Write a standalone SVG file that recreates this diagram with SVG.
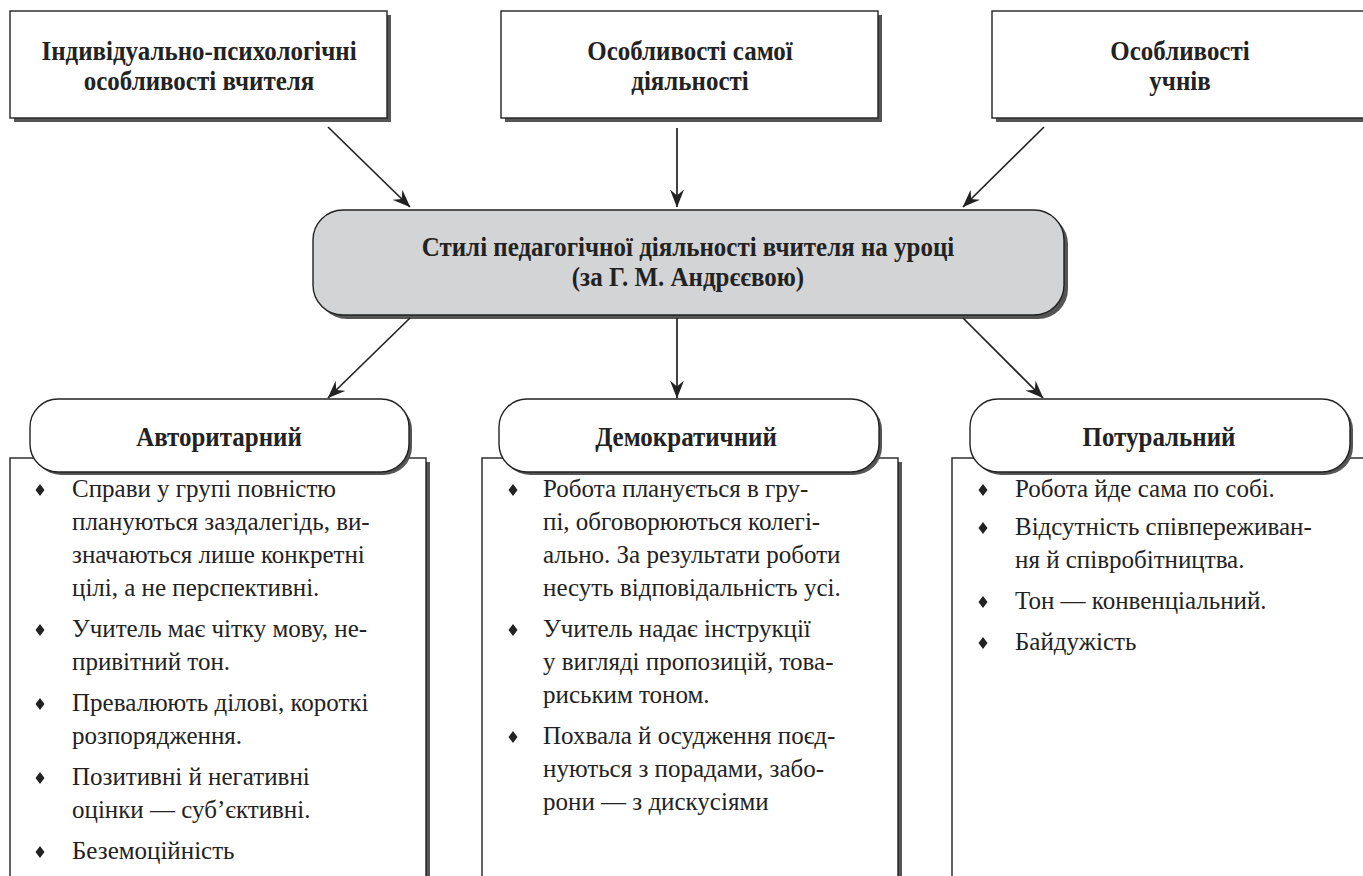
<svg xmlns="http://www.w3.org/2000/svg" width="1363" height="876" viewBox="0 0 1363 876">
<style>
.box{fill:#fff;stroke:#222;stroke-width:1.4}
.sh{fill:#555}
.ctr{fill:#d3d4d6;stroke:#222;stroke-width:1.4}
.t{font-family:"Liberation Serif","Times New Roman",serif;font-weight:bold;font-size:27px;fill:#222;text-anchor:middle}
.li{font-family:"Liberation Serif","Times New Roman",serif;font-size:25px;fill:#222}
.con{stroke:#222;stroke-width:1.7;fill:none;marker-end:url(#ah)}
</style>
<defs>
<marker id="ah" viewBox="0 0 18 14" refX="17.5" refY="7" markerWidth="18" markerHeight="14" markerUnits="userSpaceOnUse" orient="auto">
<path d="M0,0 L18,7 L0,14 L6,7 Z" fill="#222"/>
</marker>
<polygon id="dia" points="0,-6 4.5,0 0,6 -4.5,0" fill="#222"/>
</defs>
<rect width="1363" height="876" fill="#fff"/>

<g id="top1">
<rect class="sh" x="14" y="15" width="377" height="107"/>
<rect class="box" x="10" y="11" width="377" height="107"/>
<text class="t" transform="translate(199,0) scale(0.925,1)" x="0" y="60">Індивідуально-психологічні</text>
<text class="t" transform="translate(199,0) scale(0.925,1)" x="0" y="90">особливості вчителя</text>
</g>
<g id="top2">
<rect class="sh" x="505" y="15" width="377" height="107"/>
<rect class="box" x="501" y="11" width="377" height="107"/>
<text class="t" transform="translate(690,0) scale(0.925,1)" x="0" y="60">Особливості самої</text>
<text class="t" transform="translate(690,0) scale(0.925,1)" x="0" y="90">діяльності</text>
</g>
<g id="top3">
<rect class="sh" x="996" y="15" width="377" height="107"/>
<rect class="box" x="992" y="11" width="377" height="107"/>
<text class="t" transform="translate(1180,0) scale(0.925,1)" x="0" y="60">Особливості</text>
<text class="t" transform="translate(1180,0) scale(0.925,1)" x="0" y="90">учнів</text>
</g>

<g id="center">
<rect class="sh" x="317" y="214" width="751" height="105" rx="30"/>
<rect class="ctr" x="313" y="210" width="751" height="105" rx="30"/>
<text class="t" transform="translate(688,0) scale(0.925,1)" x="0" y="256">Стилі педагогічної діяльності вчителя на уроці</text>
<text class="t" transform="translate(688,0) scale(0.925,1)" x="0" y="286">(за Г. М. Андрєєвою)</text>
</g>

<g id="connectors">
<line class="con" x1="328" y1="127" x2="410" y2="207"/>
<line class="con" x1="677" y1="128" x2="677" y2="207"/>
<line class="con" x1="1044" y1="127" x2="963" y2="207"/>
<line class="con" x1="410" y1="318" x2="328" y2="398"/>
<line class="con" x1="677" y1="318" x2="677" y2="398"/>
<line class="con" x1="963" y1="318" x2="1043" y2="398"/>
</g>

<g id="col1">
<rect class="sh" x="14" y="462" width="416" height="430"/>
<rect class="box" x="10" y="458" width="416" height="430"/>
<rect class="sh" x="33" y="402" width="379" height="73" rx="28"/>
<rect class="box" x="30" y="399" width="379" height="73" rx="28"/>
<text class="t" transform="translate(219,0) scale(0.925,1)" x="0" y="446">Авторитарний</text>
<use href="#dia" x="40" y="490"/>
<text class="li" x="72" y="497">Справи у групі повністю</text>
<text class="li" x="72" y="530">плануються заздалегідь, ви-</text>
<text class="li" x="72" y="563">значаються лише конкретні</text>
<text class="li" x="72" y="596">цілі, а не перспективні.</text>
<use href="#dia" x="40" y="630"/>
<text class="li" x="72" y="637">Учитель має чітку мову, не-</text>
<text class="li" x="72" y="670">привітний тон.</text>
<use href="#dia" x="40" y="704"/>
<text class="li" x="72" y="711">Превалюють ділові, короткі</text>
<text class="li" x="72" y="744">розпорядження.</text>
<use href="#dia" x="40" y="778"/>
<text class="li" x="72" y="785">Позитивні й негативні</text>
<text class="li" x="72" y="818">оцінки — суб’єктивні.</text>
<use href="#dia" x="40" y="852"/>
<text class="li" x="72" y="859">Беземоційність</text>
</g>

<g id="col2">
<rect class="sh" x="486" y="462" width="416" height="430"/>
<rect class="box" x="482" y="458" width="416" height="430"/>
<rect class="sh" x="502" y="402" width="380" height="73" rx="28"/>
<rect class="box" x="499" y="399" width="380" height="73" rx="28"/>
<text class="t" transform="translate(686,0) scale(0.925,1)" x="0" y="446">Демократичний</text>
<use href="#dia" x="513" y="490"/>
<text class="li" x="543" y="497">Робота планується в гру-</text>
<text class="li" x="543" y="530">пі, обговорюються колегі-</text>
<text class="li" x="543" y="563">ально. За результати роботи</text>
<text class="li" x="543" y="596">несуть відповідальність усі.</text>
<use href="#dia" x="513" y="630"/>
<text class="li" x="543" y="637">Учитель надає інструкції</text>
<text class="li" x="543" y="670">у вигляді пропозицій, това-</text>
<text class="li" x="543" y="703">риським тоном.</text>
<use href="#dia" x="513" y="737"/>
<text class="li" x="543" y="744">Похвала й осудження поєд-</text>
<text class="li" x="543" y="777">нуються з порадами, забо-</text>
<text class="li" x="543" y="810">рони — з дискусіями</text>
</g>

<g id="col3">
<rect class="sh" x="956" y="462" width="416" height="430"/>
<rect class="box" x="952" y="458" width="416" height="430"/>
<rect class="sh" x="973" y="402" width="380" height="73" rx="28"/>
<rect class="box" x="970" y="399" width="380" height="73" rx="28"/>
<text class="t" transform="translate(1159,0) scale(0.925,1)" x="0" y="446">Потуральний</text>
<use href="#dia" x="983" y="490"/>
<text class="li" x="1015" y="497">Робота йде сама по собі.</text>
<use href="#dia" x="983" y="528"/>
<text class="li" x="1015" y="535">Відсутність співпереживан-</text>
<text class="li" x="1015" y="568">ня й співробітництва.</text>
<use href="#dia" x="983" y="602"/>
<text class="li" x="1015" y="609">Тон — конвенціальний.</text>
<use href="#dia" x="983" y="643"/>
<text class="li" x="1015" y="650">Байдужість</text>
</g>
</svg>
